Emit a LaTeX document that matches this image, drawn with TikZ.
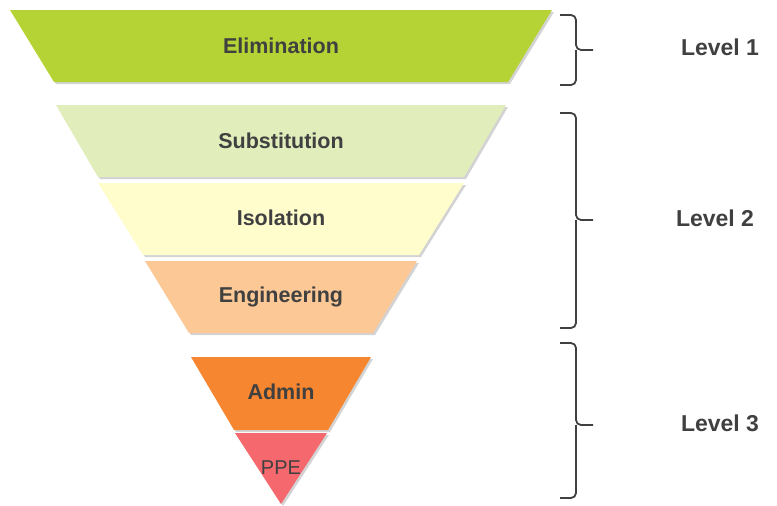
\documentclass[tikz,border=0pt]{standalone}
\usepackage{fontspec}
\setmainfont{Liberation Sans}
\usetikzlibrary{shadows}
\definecolor{elimgreen}{HTML}{B5D334}
\definecolor{substgreen}{HTML}{E1EDBB}
\definecolor{isolyellow}{HTML}{FFFDCC}
\definecolor{engpeach}{HTML}{FCC896}
\definecolor{adminorange}{HTML}{F6862F}
\definecolor{ppered}{HTML}{F5696E}
\definecolor{textgrey}{HTML}{404040}
\tikzset{
  band/.style={drop shadow={opacity=0.35,shadow xshift=2pt,shadow yshift=-2pt}},
  bandtext/.style={text=textgrey,font=\fontsize{21.5}{25}\selectfont\bfseries},
  leveltext/.style={text=textgrey,font=\fontsize{23}{27}\selectfont\bfseries},
  brace/.style={draw=textgrey,line width=1.8pt,rounded corners=5pt}
}

\begin{document}
\begin{tikzpicture}[x=1pt,y=-1pt]
      \useasboundingbox (0,0) rectangle (777,506);
      \fill[band,elimgreen] (10,10) -- (552,10) -- (508,82) -- (54,82) -- cycle;
      \fill[band,substgreen] (56,105) -- (506,105) -- (464,177) -- (98,177) -- cycle;
      \fill[band,isolyellow] (98,183) -- (464,183) -- (419,255) -- (143,255) -- cycle;
      \fill[band,engpeach] (145,261) -- (417,261) -- (373,333) -- (189,333) -- cycle;
      \fill[band,adminorange] (191,357) -- (371,357) -- (328,430) -- (234,430) -- cycle;
      \fill[band,ppered] (235,433) -- (327,433) -- (281,504) -- cycle;
      \node[bandtext] (elim) at (281,46) {Elimination};
      \node[bandtext] (subst) at (281,141) {Substitution};
      \node[bandtext] (isol) at (281,218) {Isolation};
      \node[bandtext] (eng) at (281,297) {Engineering};
      \node[bandtext] (admin) at (281,392) {Admin};
      \node[bandtext,font=\fontsize{20}{23}\selectfont] (ppe) at (281,468) {PPE};
      \draw[brace] (560,15) -| (576,50) -- (593,50);
      \draw[brace] (576,50) |- (560,85);
      \draw[brace] (560,113) -| (576,220) -- (593,220);
      \draw[brace] (576,220) |- (560,328);
      \draw[brace] (560,343) -| (576,425) -- (593,425);
      \draw[brace] (576,425) |- (560,498);
      \node[leveltext] (lvl1) at (720,47) {Level 1};
      \node[leveltext] (lvl2) at (715,218) {Level 2};
      \node[leveltext] (lvl3) at (720,423) {Level 3};
    \end{tikzpicture}
\end{document}
